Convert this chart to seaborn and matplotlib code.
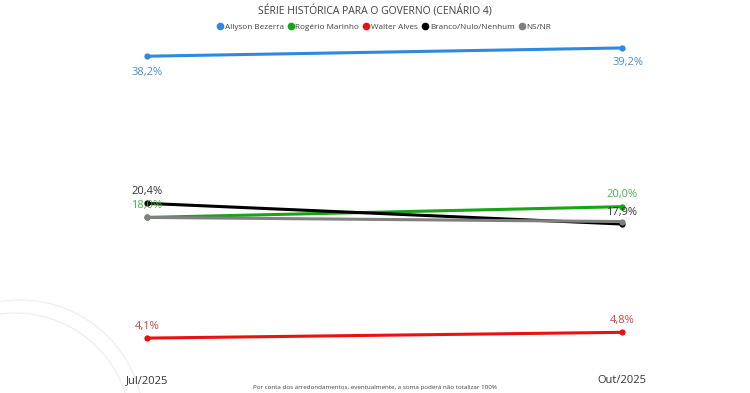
import matplotlib
matplotlib.use("Agg")
import matplotlib.pyplot as plt
from matplotlib.lines import Line2D
from matplotlib.patches import Circle
import seaborn as sns
import pandas as pd

periods = ["Jul/2025", "Out/2025"]
series = ["Allyson Bezerra", "Rogério Marinho", "Walter Alves", "Branco/Nulo/Nenhum", "NS/NR"]
allyson = [38.2, 39.2]
rogerio = [18.7, 20.0]
walter = [4.1, 4.8]
branco = [20.4, 17.9]
nsnr = [18.7, 18.2]
label_allyson = ["38,2%", "39,2%"]
label_rogerio = ["18,0%", "20,0%"]
label_walter = ["4,1%", "4,8%"]
label_branco = ["20,4%", "17,9%"]

colors = ["#2E8AE0", "#16A516", "#E81212", "#000000", "#808080"]
label_colors = ["#4A90D0", "#4DB04D", "#D04545", "#333333"]

sns.set_theme(style="white")
plt.rcParams["font.family"] = ["Open Sans", "DejaVu Sans"]

rows = []
for name, vals in zip(series, [allyson, rogerio, walter, branco, nsnr]):
    for i, v in enumerate(vals):
        rows.append({"serie": name, "x": i, "v": v})
df = pd.DataFrame(rows)

fig = plt.figure(figsize=(7.5, 3.93), dpi=100)

# decorative faint arcs (pixel-based, in inches)
for cx, cy, r in [(20, 424, 124), (15, 429, 116)]:
    fig.add_artist(Circle((cx / 100, (393 - cy) / 100), r / 100,
                          transform=fig.dpi_scale_trans, fill=False,
                          edgecolor="#EFEFEF", linewidth=0.9, zorder=0))

ax = fig.add_axes([147 / 750, 21 / 393, 475 / 750, 372 / 393])
ax.patch.set_alpha(0)

sns.lineplot(data=df, x="x", y="v", hue="serie", hue_order=series,
             palette=colors, marker="o", markersize=4.5, markeredgewidth=0,
             linewidth=2.2, legend=False, ax=ax)
for l in ax.lines:
    l.set_clip_on(False)

ax.set_xlim(0, 1)
ax.set_ylim(0, 45)
for s in ax.spines.values():
    s.set_visible(False)
ax.set_yticks([])
ax.set_xticks([0, 1])
ax.set_xticklabels(periods, fontsize=8, color="#333333")
ax.tick_params(axis="x", length=0, pad=2)
ax.set_xlabel("")
ax.set_ylabel("")

fs = 8
def lab(txt, x, y, dx, dy, c):
    ax.annotate(txt, (x, y), xytext=(dx, dy), textcoords="offset points",
                ha="center", va="center", fontsize=fs, color=c)

lab(label_allyson[0], 0, allyson[0], 0, -11.5, label_colors[0])
lab(label_allyson[1], 1, allyson[1], 4, -10.5, label_colors[0])
lab(label_rogerio[0], 0, rogerio[0], 0, 8.5, label_colors[1])
lab(label_rogerio[1], 1, rogerio[1], 0, 9, label_colors[1])
lab(label_walter[0], 0, walter[0], 0, 8.5, label_colors[2])
lab(label_walter[1], 1, walter[1], 0, 8.5, label_colors[2])
lab(label_branco[0], 0, branco[0], 0, 8.5, label_colors[3])
lab(label_branco[1], 1, branco[1], 0, 8.5, label_colors[3])

# Title and legend
fig.text(0.5, 1 - 12 / 393, "SÉRIE HISTÓRICA PARA O GOVERNO (CENÁRIO 4)", ha="center",
         va="center", fontsize=7.5, color="#404040")
handles = [Line2D([0], [0], marker="o", linestyle="", markersize=5.5, markeredgewidth=0,
                  color=c) for c in colors]
fig.legend(handles, series, loc="center", bbox_to_anchor=(383 / 750, 1 - 27 / 393), ncol=5,
           frameon=False, fontsize=5.9, handletextpad=0.0, columnspacing=0.25,
           handlelength=1.2, labelcolor="#404040")

fig.text(0.5, 1 - 387 / 393,
         "Por conta dos arredondamentos, eventualmente, a soma poderá não totalizar 100%",
         ha="center", va="center", fontsize=4.5, color="#404040")

fig.savefig("out.png", dpi=100)
